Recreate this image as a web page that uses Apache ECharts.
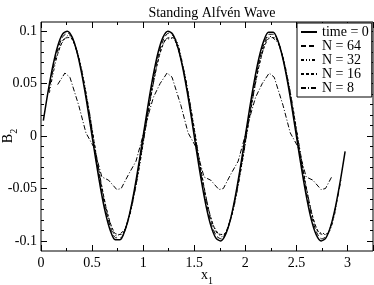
<!DOCTYPE html>
<html>
<head>
<meta charset="utf-8">
<script src="https://cdn.jsdelivr.net/npm/echarts@6/dist/echarts.min.js"></script>
<style>html,body{margin:0;padding:0;background:#fff}#c{width:374px;height:285px}</style>
</head>
<body>
<div id="c"></div>
<script>
const titleText = 'Standing Alfvén Wave';
const seriesNames = ['time = 0', 'N = 64', 'N = 32', 'N = 16', 'N = 8'];

const t0X = [0.023,0.070,0.117,0.164,0.211,0.258,0.305,0.352,0.398,0.445,0.492,0.539,0.586,0.633,0.680,0.727,0.773,0.820,0.867,0.914,0.961,1.008,1.055,1.102,1.148,1.195,1.242,1.289,1.336,1.383,1.430,1.477,1.523,1.570,1.617,1.664,1.711,1.758,1.805,1.852,1.898,1.945,1.992,2.039,2.086,2.133,2.180,2.227,2.273,2.320,2.367,2.414,2.461,2.508,2.555,2.602,2.648,2.695,2.742,2.789,2.836,2.883,2.930,2.977];
const t0Y = [0.0147,0.0428,0.0672,0.0858,0.0970,0.0999,0.0942,0.0803,0.0596,0.0337,0.0049,-0.0243,-0.0514,-0.0741,-0.0904,-0.0989,-0.0989,-0.0904,-0.0741,-0.0514,-0.0243,0.0049,0.0337,0.0596,0.0803,0.0942,0.0999,0.0970,0.0858,0.0672,0.0428,0.0147,-0.0147,-0.0428,-0.0672,-0.0858,-0.0970,-0.0999,-0.0942,-0.0803,-0.0596,-0.0337,-0.0049,0.0243,0.0514,0.0741,0.0904,0.0989,0.0989,0.0904,0.0741,0.0514,0.0243,-0.0049,-0.0337,-0.0596,-0.0803,-0.0942,-0.0999,-0.0970,-0.0858,-0.0672,-0.0428,-0.0147];

const n64X = [0.076,0.123,0.170,0.217,0.264,0.311,0.358,0.404,0.451,0.498,0.545,0.592,0.639,0.686,0.733,0.779,0.826,0.873,0.920,0.967,1.014,1.061,1.108,1.154,1.201,1.248,1.295,1.342,1.389,1.436,1.483,1.529,1.576,1.623,1.670,1.717,1.764,1.811,1.858,1.904,1.951,1.998,2.045,2.092,2.139,2.186,2.233,2.279,2.326,2.373,2.420,2.467,2.514,2.561,2.608,2.654,2.701,2.748,2.795,2.842,2.889,2.936];
const n64Y = [0.0419,0.0658,0.0841,0.0951,0.0979,0.0923,0.0787,0.0584,0.0330,0.0048,-0.0238,-0.0504,-0.0726,-0.0886,-0.0969,-0.0969,-0.0886,-0.0726,-0.0504,-0.0238,0.0048,0.0330,0.0584,0.0787,0.0923,0.0979,0.0951,0.0841,0.0658,0.0419,0.0144,-0.0144,-0.0419,-0.0658,-0.0841,-0.0951,-0.0979,-0.0923,-0.0787,-0.0584,-0.0330,-0.0048,0.0238,0.0504,0.0726,0.0886,0.0969,0.0969,0.0886,0.0726,0.0504,0.0238,-0.0048,-0.0330,-0.0584,-0.0787,-0.0923,-0.0979,-0.0951,-0.0841,-0.0658,-0.0419];

const n32X = [0.082,0.176,0.270,0.364,0.457,0.551,0.645,0.739,0.832,0.926,1.020,1.114,1.207,1.301,1.395,1.489,1.582,1.676,1.770,1.864,1.957,2.051,2.145,2.239,2.332,2.426,2.520,2.614,2.707,2.801,2.895];
const n32Y = [0.0410,0.0823,0.0959,0.0771,0.0323,-0.0233,-0.0711,-0.0950,-0.0868,-0.0494,0.0047,0.0572,0.0904,0.0931,0.0645,0.0141,-0.0410,-0.0823,-0.0959,-0.0771,-0.0323,0.0233,0.0711,0.0950,0.0868,0.0494,-0.0047,-0.0572,-0.0904,-0.0931,-0.0645];

const n16X = [0.160,0.223,0.285,0.348,0.410,0.473,0.535,0.598,0.660,0.723,0.785,0.848,0.910,0.973,1.035,1.098,1.160,1.223,1.285,1.348,1.410,1.473,1.535,1.598,1.660,1.723,1.785,1.848,1.910,1.973,2.035,2.098,2.160,2.223,2.285,2.348,2.410,2.473,2.535,2.598,2.660,2.723,2.785];
const n16Y = [0.0769,0.0924,0.0938,0.0810,0.0558,0.0222,-0.0149,-0.0496,-0.0769,-0.0924,-0.0938,-0.0810,-0.0558,-0.0222,0.0149,0.0496,0.0769,0.0924,0.0938,0.0810,0.0558,0.0222,-0.0149,-0.0496,-0.0769,-0.0924,-0.0938,-0.0810,-0.0558,-0.0222,0.0149,0.0496,0.0769,0.0924,0.0938,0.0810,0.0558,0.0222,-0.0149,-0.0496,-0.0769,-0.0924,-0.0938];

const n8X = [0.163,0.234,0.283,0.370,0.440,0.514,0.596,0.661,0.742,0.785,0.860,0.930,1.003,1.036,1.068,1.101,1.166,1.234,1.283,1.370,1.440,1.514,1.596,1.661,1.742,1.785,1.860,1.930,2.003,2.036,2.068,2.101,2.166,2.234,2.283,2.370,2.440,2.514,2.596,2.661,2.742,2.785,2.845];
const n8Y = [0.049,0.060,0.056,0.029,0.003,-0.010,-0.039,-0.042,-0.051,-0.050,-0.036,-0.024,0.002,0.015,0.026,0.037,0.050,0.060,0.056,0.029,0.003,-0.010,-0.039,-0.042,-0.051,-0.050,-0.036,-0.024,0.002,0.015,0.026,0.037,0.050,0.060,0.056,0.029,0.003,-0.010,-0.039,-0.042,-0.051,-0.050,-0.039];

const F = 'Liberation Serif, Times New Roman, serif';
const zip = (xs, ys) => xs.map((x, i) => [x, ys[i]]);

const chart = echarts.init(document.getElementById('c'), null, {renderer: 'canvas'});
const tickCommon = {show: true, inside: true, length: 6, lineStyle: {color: '#000', width: 1}};
const minorCommon = (n) => ({show: true, splitNumber: n, length: 3, lineStyle: {color: '#000', width: 1}});
const noLine = {show: false, onZero: false};

const mkLine = (name, xs, ys, type, width, smooth) => ({
  name, type: 'line', xAxisIndex: 0, yAxisIndex: 0,
  data: zip(xs, ys), symbol: 'none', showSymbol: false, smooth: smooth,
  lineStyle: {color: '#000', width: width, type: type},
  itemStyle: {color: '#000'}, emphasis: {disabled: true}, animation: false
});

const subRich = {
  a: {fontFamily: F, fontSize: 14, color: '#000', lineHeight: 14, verticalAlign: 'top'},
  b: {fontFamily: F, fontSize: 10, color: '#000', lineHeight: 18, verticalAlign: 'bottom'}
};

chart.setOption({
  animation: false,
  backgroundColor: '#fff',
  title: {
    text: titleText, left: 207, top: 1, textAlign: 'center',
    textStyle: {fontFamily: F, fontSize: 14, fontWeight: 'normal', color: '#000'}
  },
  legend: {
    orient: 'vertical', left: 297, top: 23,
    data: seriesNames,
    backgroundColor: '#fff', borderColor: '#000', borderWidth: 1,
    padding: [2, 3, 2, 3], itemWidth: 16, itemHeight: 10, itemGap: 0,
    itemStyle: {opacity: 0, borderWidth: 0},
    textStyle: {fontFamily: F, fontSize: 14, color: '#000', lineHeight: 12.75},
    selectedMode: false
  },
  grid: [
    {left: 41, right: 1, top: 22, bottom: 34, show: true, borderColor: '#000', borderWidth: 1,
     backgroundColor: 'transparent', outerBoundsMode: 'none', containLabel: false},
    {left: 41, right: 1, top: 31, bottom: 44, show: false, outerBoundsMode: 'none', containLabel: false}
  ],
  xAxis: [
    {type: 'value', gridIndex: 0, position: 'bottom', min: 0, max: 3.25, interval: 0.5,
     axisLine: noLine, splitLine: {show: false},
     axisTick: tickCommon, minorTick: minorCommon(2),
     axisLabel: {show: true, showMaxLabel: false, margin: 5, fontFamily: F, fontSize: 14, color: '#000'},
     name: '{a|x}{b|1}', nameLocation: 'middle', nameGap: 17, nameMoveOverlap: false,
     nameTextStyle: {fontFamily: F, fontSize: 14, color: '#000', rich: subRich}},
    {type: 'value', gridIndex: 0, position: 'top', min: 0, max: 3.25, interval: 0.5,
     axisLine: noLine, splitLine: {show: false},
     axisTick: tickCommon, minorTick: minorCommon(2), axisLabel: {show: false}},
    {type: 'value', gridIndex: 1, min: 0, max: 3.25, show: false, axisLine: noLine}
  ],
  yAxis: [
    {type: 'value', gridIndex: 0, min: -0.1095, max: 0.1086, show: false, axisLine: noLine},
    {type: 'value', gridIndex: 1, position: 'left', min: -0.1, max: 0.1, interval: 0.05,
     axisLine: noLine, splitLine: {show: false},
     axisTick: tickCommon, minorTick: minorCommon(5),
     axisLabel: {show: true, margin: 4, fontFamily: F, fontSize: 14, color: '#000'},
     name: '{a|B}{b|2}', nameLocation: 'middle', nameGap: 22, nameMoveOverlap: false,
     nameTextStyle: {fontFamily: F, fontSize: 14, color: '#000', rich: subRich}},
    {type: 'value', gridIndex: 1, position: 'right', min: -0.1, max: 0.1, interval: 0.05,
     axisLine: noLine, splitLine: {show: false},
     axisTick: tickCommon, minorTick: minorCommon(5), axisLabel: {show: false}}
  ],
  series: [
    mkLine(seriesNames[0], t0X, t0Y, 'solid', 1.5, 0.3),
    mkLine(seriesNames[1], n64X, n64Y, [5, 3], 1, 0.3),
    mkLine(seriesNames[2], n32X, n32Y, [3, 2, 1, 2, 1, 2], 1, 0.3),
    mkLine(seriesNames[3], n16X, n16Y, [3, 2], 1, 0.3),
    mkLine(seriesNames[4], n8X, n8Y, [5, 2, 1, 2], 1, false)
  ]
});
</script>
</body>
</html>
